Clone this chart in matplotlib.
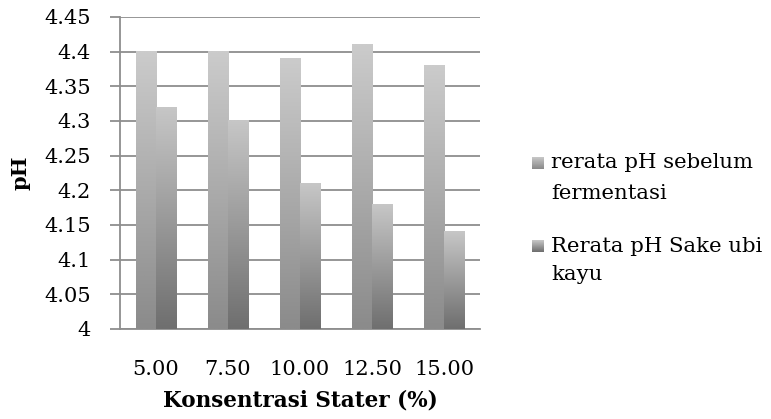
import numpy as np
import matplotlib
matplotlib.use("Agg")
import matplotlib.pyplot as plt

plt.rcParams.update({
    "font.family": ["DejaVu Serif"],
    "font.size": 15,
})

categories = ["5.00", "7.50", "10.00", "12.50", "15.00"]
ph_before = [4.40, 4.40, 4.39, 4.41, 4.38]
ph_sake = [4.32, 4.30, 4.21, 4.18, 4.14]
series_names = [["rerata pH sebelum", "fermentasi"],
                ["Rerata pH Sake ubi", "kayu"]]

# top / bottom shade of each series gradient
SHADES = [("#cbcbcb", "#8b8b8b"), ("#c6c6c6", "#6f6f6f")]
GRID = "#8e8e8e"
YMIN, YMAX = 4.0, 4.45


def _ramp(top, bottom, n=64):
    t = np.array(matplotlib.colors.to_rgb(top))
    b = np.array(matplotlib.colors.to_rgb(bottom))
    f = np.linspace(0, 1, n)[:, None]
    return (t * (1 - f) + b * f)[:, None, :]


def gradient_bars(ax, x, vals, width, shades):
    bars = ax.bar(x, np.array(vals) - YMIN, width, bottom=YMIN,
                  color="none", edgecolor="none", zorder=3)
    img = _ramp(*shades)
    for b in bars:
        x0, y0 = b.get_x(), b.get_y()
        ax.imshow(img, extent=(x0, x0 + b.get_width(), y0, y0 + b.get_height()),
                  aspect="auto", origin="upper", zorder=3, interpolation="bilinear")
    return bars


fig = plt.figure(figsize=(7.71, 4.19), dpi=100)
W, H = 771, 419
ax = fig.add_axes([0.1556, 0.2148, 0.467, 0.745])

x = np.arange(len(categories))
w = 0.28
gradient_bars(ax, x - w / 2, ph_before, w, SHADES[0])
gradient_bars(ax, x + w / 2, ph_sake, w, SHADES[1])

ax.set_xlim(-0.5, len(categories) - 0.5)
ax.set_ylim(YMIN, YMAX)
ax.set_yticks(np.arange(4.0, 4.451, 0.05))
ax.set_yticklabels(["4", "4.05", "4.1", "4.15", "4.2", "4.25", "4.3",
                    "4.35", "4.4", "4.45"])
ax.set_xticks(x)
ax.set_xticklabels(categories)
ax.tick_params(axis="x", length=0, pad=22)
ax.tick_params(axis="y", length=7, width=1.3, color=GRID, pad=14)
ax.yaxis.grid(True, color=GRID, lw=1.3)
ax.set_axisbelow(True)
for s in ("top", "right"):
    ax.spines[s].set_visible(False)
for s in ("left", "bottom"):
    ax.spines[s].set_color(GRID)
    ax.spines[s].set_linewidth(1.3)

ax.set_ylabel("pH", fontweight="bold", labelpad=10)
ax.set_xlabel("Konsentrasi Stater (%)", fontweight="bold", labelpad=8,
              fontsize=15.5)

# legend drawn by hand: gradient square beside the first line of each label
line_y = [(163, 193), (246, 275)]
for shades, lines, ys in zip(SHADES, series_names, line_y):
    sq = fig.add_axes([532 / W, 1 - (ys[0] + 6) / H, 12 / W, 12 / H])
    sq.imshow(_ramp(*shades, n=16), aspect="auto", interpolation="bilinear")
    sq.set_axis_off()
    for txt, yy in zip(lines, ys):
        fig.text(551 / W, 1 - yy / H, txt, fontsize=15.3, va="center", ha="left")

fig.savefig("out.png", dpi=100)
